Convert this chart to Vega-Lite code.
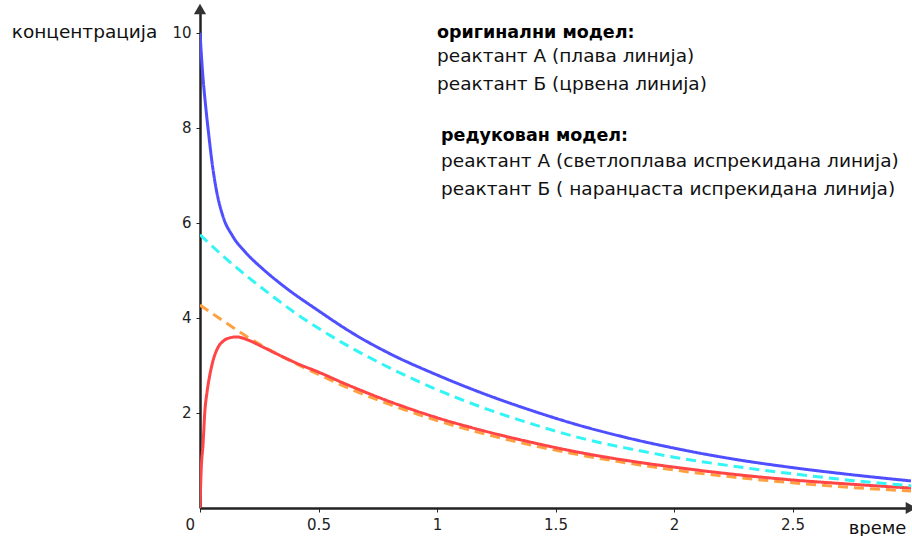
{
  "$schema": "https://vega.github.io/schema/vega-lite/v6.json",
  "autosize": {"type": "none"},
  "width": 711,
  "height": 499,
  "padding": {"left": 200, "top": 9, "right": 1, "bottom": 28},
  "background": "white",
  "config": {"view": {"stroke": null}, "font": "DejaVu Sans"},
  "datasets": {
    "curves": [
      {"s": "B red", "t": 0, "c": 4.27}, {"s": "B red", "t": 0.1, "c": 3.93}, {"s": "B red", "t": 0.2, "c": 3.6}, {"s": "B red", "t": 0.3, "c": 3.31}, {"s": "B red", "t": 0.4, "c": 3.05}, {"s": "B red", "t": 0.5, "c": 2.81}, {"s": "B red", "t": 0.6, "c": 2.58}, {"s": "B red", "t": 0.8, "c": 2.18}, {"s": "B red", "t": 1.0, "c": 1.84}, {"s": "B red", "t": 1.2, "c": 1.56}, {"s": "B red", "t": 1.4, "c": 1.32}, {"s": "B red", "t": 1.6, "c": 1.12}, {"s": "B red", "t": 1.8, "c": 0.95}, {"s": "B red", "t": 2.0, "c": 0.8}, {"s": "B red", "t": 2.25, "c": 0.65}, {"s": "B red", "t": 2.5, "c": 0.53}, {"s": "B red", "t": 2.75, "c": 0.43}, {"s": "B red", "t": 3.0, "c": 0.36},
      {"s": "B orig", "t": 0, "c": 0}, {"s": "B orig", "t": 0.005, "c": 0.8}, {"s": "B orig", "t": 0.013, "c": 1.35}, {"s": "B orig", "t": 0.02, "c": 2.0}, {"s": "B orig", "t": 0.03, "c": 2.45}, {"s": "B orig", "t": 0.04, "c": 2.76}, {"s": "B orig", "t": 0.055, "c": 3.1}, {"s": "B orig", "t": 0.075, "c": 3.37}, {"s": "B orig", "t": 0.1, "c": 3.52}, {"s": "B orig", "t": 0.125, "c": 3.58}, {"s": "B orig", "t": 0.156, "c": 3.6}, {"s": "B orig", "t": 0.2, "c": 3.54}, {"s": "B orig", "t": 0.26, "c": 3.4}, {"s": "B orig", "t": 0.35, "c": 3.18}, {"s": "B orig", "t": 0.42, "c": 3.02}, {"s": "B orig", "t": 0.5, "c": 2.86}, {"s": "B orig", "t": 0.6, "c": 2.64}, {"s": "B orig", "t": 0.8, "c": 2.24}, {"s": "B orig", "t": 1.0, "c": 1.9}, {"s": "B orig", "t": 1.2, "c": 1.62}, {"s": "B orig", "t": 1.4, "c": 1.38}, {"s": "B orig", "t": 1.6, "c": 1.17}, {"s": "B orig", "t": 1.8, "c": 1.0}, {"s": "B orig", "t": 2.0, "c": 0.86}, {"s": "B orig", "t": 2.25, "c": 0.71}, {"s": "B orig", "t": 2.5, "c": 0.59}, {"s": "B orig", "t": 2.75, "c": 0.5}, {"s": "B orig", "t": 3.0, "c": 0.42},
      {"s": "A red", "t": 0, "c": 5.75}, {"s": "A red", "t": 0.1, "c": 5.29}, {"s": "A red", "t": 0.2, "c": 4.87}, {"s": "A red", "t": 0.3, "c": 4.48}, {"s": "A red", "t": 0.4, "c": 4.11}, {"s": "A red", "t": 0.5, "c": 3.78}, {"s": "A red", "t": 0.6, "c": 3.48}, {"s": "A red", "t": 0.8, "c": 2.95}, {"s": "A red", "t": 1.0, "c": 2.49}, {"s": "A red", "t": 1.2, "c": 2.1}, {"s": "A red", "t": 1.4, "c": 1.77}, {"s": "A red", "t": 1.6, "c": 1.48}, {"s": "A red", "t": 1.8, "c": 1.26}, {"s": "A red", "t": 2.0, "c": 1.07}, {"s": "A red", "t": 2.25, "c": 0.88}, {"s": "A red", "t": 2.5, "c": 0.72}, {"s": "A red", "t": 2.75, "c": 0.58}, {"s": "A red", "t": 3.0, "c": 0.47},
      {"s": "A orig", "t": 0, "c": 10.0}, {"s": "A orig", "t": 0.005, "c": 9.6}, {"s": "A orig", "t": 0.012, "c": 9.1}, {"s": "A orig", "t": 0.025, "c": 8.4}, {"s": "A orig", "t": 0.037, "c": 7.85}, {"s": "A orig", "t": 0.05, "c": 7.3}, {"s": "A orig", "t": 0.068, "c": 6.72}, {"s": "A orig", "t": 0.096, "c": 6.15}, {"s": "A orig", "t": 0.138, "c": 5.72}, {"s": "A orig", "t": 0.194, "c": 5.37}, {"s": "A orig", "t": 0.265, "c": 5.03}, {"s": "A orig", "t": 0.35, "c": 4.68}, {"s": "A orig", "t": 0.5, "c": 4.15}, {"s": "A orig", "t": 0.65, "c": 3.66}, {"s": "A orig", "t": 0.8, "c": 3.25}, {"s": "A orig", "t": 1.0, "c": 2.8}, {"s": "A orig", "t": 1.2, "c": 2.4}, {"s": "A orig", "t": 1.4, "c": 2.05}, {"s": "A orig", "t": 1.6, "c": 1.74}, {"s": "A orig", "t": 1.8, "c": 1.48}, {"s": "A orig", "t": 2.0, "c": 1.26}, {"s": "A orig", "t": 2.25, "c": 1.03}, {"s": "A orig", "t": 2.5, "c": 0.85}, {"s": "A orig", "t": 2.75, "c": 0.7}, {"s": "A orig", "t": 3.0, "c": 0.57}
    ],
    "heads": [
      {"t": 1.0, "c": 10.0, "label": "оригинални модел:"},
      {"t": 1.017, "c": 7.83, "label": "редукован модел:"}
    ],
    "notes": [
      {"t": 1.0, "c": 9.52, "label": "реактант А (плава линија)"},
      {"t": 1.0, "c": 8.93, "label": "реактант Б (црвена линија)"},
      {"t": 1.017, "c": 7.31, "label": "реактант А (светлоплава испрекидана линија)"},
      {"t": 1.017, "c": 6.72, "label": "реактант Б ( наранџаста испрекидана линија)"}
    ],
    "arrows": [
      {"t": 3.0, "c": 0, "dir": "triangle-right"},
      {"t": 0, "c": 10.5, "dir": "triangle-up"}
    ]
  },
  "layer": [
    {
      "data": {"name": "curves"},
      "mark": {"type": "line", "strokeWidth": 3, "interpolate": "monotone", "clip": true},
      "encoding": {
        "x": {
          "field": "t", "type": "quantitative",
          "scale": {"domain": [0, 3], "nice": false, "zero": false},
          "axis": {
            "values": [0, 0.5, 1, 1.5, 2, 2.5],
            "labelExpr": "datum.value == 0 ? '0' : format(datum.value, '.1~f')",
            "grid": false, "domainColor": "#222", "domainWidth": 2.5,
            "tickColor": "#222", "tickSize": 4, "tickWidth": 1,
            "labelFontSize": 15, "labelColor": "#222", "labelPadding": 5,
            "labelOffset": {"condition": {"test": "datum.value == 0", "value": -15}, "value": 0},
            "title": "време", "titleFontSize": 18, "titleFontWeight": "normal", "titleColor": "#111",
            "titleX": 677, "titleY": 20, "titleAlign": "center", "titleBaseline": "middle"
          }
        },
        "y": {
          "field": "c", "type": "quantitative",
          "scale": {"domain": [0, 10.5], "nice": false},
          "axis": {
            "values": [2, 4, 6, 8, 10],
            "grid": false, "domainColor": "#222", "domainWidth": 2.5,
            "tickColor": "#222", "tickSize": 4, "tickWidth": 1,
            "labelFontSize": 15, "labelColor": "#222", "labelPadding": 5,
            "title": "концентрација", "titleFontSize": 18.5, "titleFontWeight": "normal", "titleColor": "#111",
            "titleAngle": 0, "titleX": -116, "titleY": 22, "titleAlign": "center", "titleBaseline": "middle"
          }
        },
        "color": {
          "field": "s", "type": "nominal",
          "scale": {"domain": ["A orig", "B orig", "A red", "B red"], "range": ["#4f4fff", "#ff4545", "#33f5f5", "#ffa040"]},
          "legend": null
        },
        "strokeDash": {
          "field": "s", "type": "nominal",
          "scale": {"domain": ["A orig", "B orig", "A red", "B red"], "range": [[1, 0], [1, 0], [10, 6], [10, 6]]},
          "legend": null
        }
      }
    },
    {
      "data": {"name": "arrows"},
      "mark": {"type": "point", "filled": true, "color": "#333", "size": 150, "opacity": 1},
      "encoding": {
        "x": {"field": "t", "type": "quantitative"},
        "y": {"field": "c", "type": "quantitative"},
        "shape": {"field": "dir", "type": "nominal", "scale": null}
      }
    },
    {
      "data": {"name": "heads"},
      "mark": {"type": "text", "align": "left", "baseline": "middle", "fontSize": 17.5, "fontWeight": "bold", "color": "#000"},
      "encoding": {
        "x": {"field": "t", "type": "quantitative"},
        "y": {"field": "c", "type": "quantitative"},
        "text": {"field": "label"}
      }
    },
    {
      "data": {"name": "notes"},
      "mark": {"type": "text", "align": "left", "baseline": "middle", "fontSize": 18.5, "color": "#111"},
      "encoding": {
        "x": {"field": "t", "type": "quantitative"},
        "y": {"field": "c", "type": "quantitative"},
        "text": {"field": "label"}
      }
    }
  ]
}
